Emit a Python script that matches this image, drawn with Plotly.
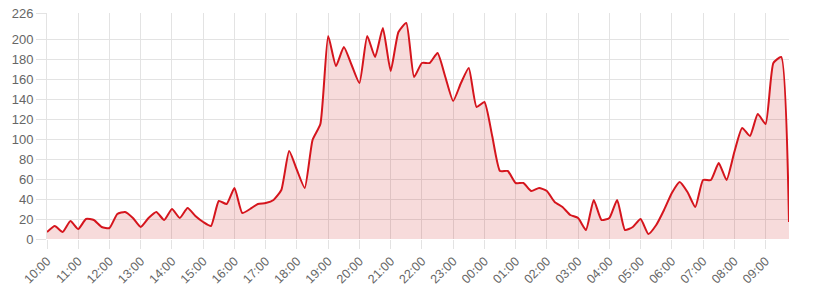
import plotly.graph_objects as go

# Hours shown on the x axis (one label per hour), 15-minute samples
hour_labels = ["10:00", "11:00", "12:00", "13:00", "14:00", "15:00", "16:00", "17:00",
               "18:00", "19:00", "20:00", "21:00", "22:00", "23:00", "00:00", "01:00",
               "02:00", "03:00", "04:00", "05:00", "06:00", "07:00", "08:00", "09:00"]
minutes = ["00", "15", "30", "45"]
times = [h[:3] + m for h in hour_labels for m in minutes]

values = [7, 13, 7, 18, 10, 20, 19, 12, 11, 25,
          27, 21, 12, 21, 27, 19, 30, 21, 31, 23,
          17, 13, 38, 35, 51, 26, 30, 35, 36, 39,
          49, 88, 69, 51, 99, 115, 203, 173, 192, 174,
          156, 203, 182, 211, 168, 207, 216, 162, 176, 176,
          186, 162, 138, 156, 171, 132, 137, 103, 68, 68,
          56, 56, 48, 51, 48, 37, 32, 24, 21, 9,
          39, 19, 21, 39, 9, 12, 20, 5, 14, 29,
          46, 57, 47, 32, 59, 59, 76, 59, 87, 111,
          103, 125, 115, 176, 182, 17]

y_ticks = [0, 20, 40, 60, 80, 100, 120, 140, 160, 180, 200, 226]

grid = "#e3e3e3"
font_color = "#666666"

fig = go.Figure()
fig.add_trace(go.Scatter(
    x=times, y=values, mode="lines",
    line=dict(color="#d5151d", width=2, shape="spline", smoothing=0.5),
    fill="tozeroy", fillcolor="rgba(205,40,40,0.17)",
    hoverinfo="x+y",
))

fig.update_layout(
    width=823, height=290,
    margin=dict(l=47, r=34, t=13, b=51, autoexpand=False),
    paper_bgcolor="white", plot_bgcolor="white",
    showlegend=False,
    font=dict(family="Liberation Sans, Arial, sans-serif", size=12, color=font_color),
)
fig.update_xaxes(
    type="category", range=[0, len(times) - 1], automargin=False,
    tickmode="array", tickvals=hour_labels, ticktext=hour_labels,
    tickangle=-45, ticks="outside", ticklen=9, tickcolor=grid,
    showgrid=True, gridcolor=grid, gridwidth=1,
    showline=False, zeroline=False,
    tickfont=dict(size=12.5, color=font_color),
)
fig.update_yaxes(
    range=[0, 226], tickmode="array", tickvals=y_ticks, automargin=False,
    ticks="outside", ticklen=10, tickcolor=grid,
    showgrid=True, gridcolor=grid, gridwidth=1,
    showline=True, linecolor=grid, zeroline=False,
    tickfont=dict(size=13, color=font_color),
)

fig.write_html("out.html")
